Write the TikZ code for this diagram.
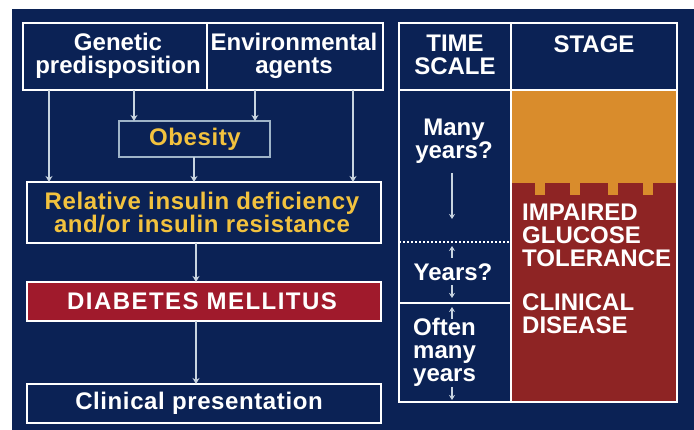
\documentclass[tikz,border=0pt]{standalone}
\usepackage{fontspec}
\setmainfont{Liberation Sans}
\newfontfamily\wideA[LetterSpace=2.5]{Liberation Sans}
\newfontfamily\wideB[LetterSpace=6]{Liberation Sans}
\usetikzlibrary{arrows.meta}
\definecolor{navy}{HTML}{0B2255}
\definecolor{orng}{HTML}{D98C2C}
\definecolor{stred}{HTML}{8E2424}
\definecolor{dmred}{HTML}{A01A2C}
\definecolor{gold}{HTML}{F2C23E}
\definecolor{obord}{HTML}{9FB4C8}
\definecolor{arr}{HTML}{C8D4E0}
\begin{document}
\begin{tikzpicture}[x=1pt,y=-1pt,
  txt/.style={font=\fontsize{24}{23}\selectfont\bfseries, text=white, inner sep=0pt, align=center},
  ltxt/.style={txt, font=\fontsize{24}{23}\selectfont\wideA\bfseries},
  ytxt/.style={ltxt, text=gold},
  wbox/.style={draw=white, line width=2pt},
  flow/.style={draw=arr, line width=1.2pt, -{Stealth[length=6pt,width=7pt]}},
  tick/.style={draw=arr, line width=1.2pt, -{Stealth[length=5pt,width=6pt]}}]
\useasboundingbox (0,0) rectangle (694,430);
\fill[white] (0,0) rectangle (694,430);
\fill[navy] (12,9) rectangle (694,430);

% ---- left flow chart ----
\draw[wbox] (23,23) rectangle (383,90);
\draw[wbox] (207,23) -- (207,90);
\node[txt] (gen) at (118,56) {Genetic\\predisposition};
\node[txt] (env) at (294,56) {Environmental\\agents};
\coordinate (topL) at (49,90);
\coordinate (topA) at (134,90);
\coordinate (topB) at (255,90);
\coordinate (topR) at (353,90);

\draw[obord, line width=1.5pt] (119,121) rectangle (270,157);
\node[ytxt] (obes) at (195,139) {Obesity};
\coordinate (obT1) at (134,121);
\coordinate (obT2) at (255,121);
\coordinate (obB) at (194,157);

\draw[wbox] (27,182) rectangle (381,243);
\node[ytxt] (rel) at (202,212.5) {Relative insulin deficiency\\and/or insulin resistance};
\coordinate (relTL) at (49,182);
\coordinate (relTM) at (194,182);
\coordinate (relTR) at (353,182);
\coordinate (relB) at (196,243);

\draw[wbox, fill=dmred] (27,282) rectangle (381,321);
\node[txt, font=\fontsize{24}{23}\selectfont\wideB\bfseries] (dm) at (202,301.5) {DIABETES MELLITUS};
\coordinate (dmT) at (196,282);
\coordinate (dmB) at (196,321);

\draw[wbox] (27,384) rectangle (381,423);
\node[ltxt] (cp) at (199,403.5) {Clinical presentation};
\coordinate (cpT) at (196,384);

\draw[flow] (topL) -- (relTL);
\draw[flow] (topA) -- (obT1);
\draw[flow] (topB) -- (obT2);
\draw[flow] (topR) -- (relTR);
\draw[flow] (obB) -- (relTM);
\draw[flow] (relB) -- (dmT);
\draw[flow] (dmB) -- (cpT);

% ---- right table ----
\fill[orng] (511,90) rectangle (677,183);
\fill[stred] (511,183) rectangle (677,402);
\foreach \tx in {535,570,608,643}{
  \fill[orng] (\tx,182) rectangle (\tx+10,195);
}
\draw[wbox] (399,23) rectangle (677,402);
\draw[wbox] (511,23) -- (511,402);
\draw[wbox] (399,90) -- (677,90);
\draw[white, line width=2pt, dash pattern=on 2pt off 2pt] (399,242) -- (511,242);
\draw[wbox] (399,303) -- (511,303);

\node[txt] (time) at (455,55) {TIME\\SCALE};
\node[txt] (stage) at (594,44) {STAGE};
\node[txt] (many) at (454,141) {Many\\years?};
\coordinate (m1) at (452,173);
\coordinate (m2) at (452,219);
\draw[tick] (m1) -- (m2);

\node[txt] (yrs) at (453,272) {Years?};
\coordinate (y0) at (452,258);
\coordinate (y1) at (452,246);
\coordinate (y2) at (452,285);
\coordinate (y3) at (452,298);
\draw[tick] (y0) -- (y1);
\draw[tick] (y2) -- (y3);

\node[txt, align=left, anchor=west] (often) at (413,352) {Often\\many\\years};
\coordinate (o0) at (452,319);
\coordinate (o1) at (452,307);
\coordinate (o2) at (452,387);
\coordinate (o3) at (452,400);
\draw[tick] (o0) -- (o1);
\draw[tick] (o2) -- (o3);

\node[txt, align=left, anchor=west] (igt) at (522,235) {IMPAIRED\\GLUCOSE\\TOLERANCE};
\node[txt, align=left, anchor=west] (cd) at (522,314) {CLINICAL\\DISEASE};
\end{tikzpicture}
\end{document}
